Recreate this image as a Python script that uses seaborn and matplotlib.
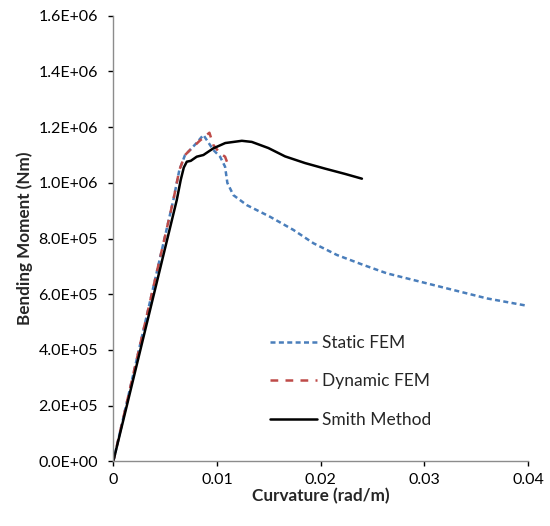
import numpy as np
import pandas as pd
import matplotlib
matplotlib.use("Agg")
import matplotlib.pyplot as plt
import seaborn as sns

# Data
static_x = [0.0, 0.00579, 0.00637, 0.00692, 0.0074, 0.0080, 0.00869,
            0.00965, 0.0103, 0.01078, 0.0110, 0.01158, 0.01288, 0.01513, 0.01737,
            0.01931, 0.02157, 0.02413, 0.02639, 0.0296, 0.03282, 0.03604, 0.040]
static_y = [0.0, 0.938e6, 1.046e6, 1.100e6, 1.118e6, 1.142e6, 1.172e6,
            1.118e6, 1.094e6, 1.058e6, 1.000e6, 0.956e6, 0.920e6, 0.878e6, 0.831e6,
            0.783e6, 0.741e6, 0.705e6, 0.675e6, 0.645e6, 0.615e6, 0.585e6, 0.558e6]

dyn_x = [0.0, 0.00579, 0.00637, 0.00692, 0.0074, 0.0083, 0.00927,
         0.00965, 0.0103, 0.01078, 0.0112]
dyn_y = [0.0, 0.938e6, 1.046e6, 1.100e6, 1.118e6, 1.150e6, 1.180e6,
         1.136e6, 1.106e6, 1.094e6, 1.052e6]

smith_x = [0.0, 0.00612, 0.0065, 0.0068, 0.00709, 0.00747, 0.00805,
           0.00869, 0.00965, 0.0108, 0.0124, 0.01336, 0.01496, 0.01657, 0.0185,
           0.02043, 0.02236, 0.02398]
smith_y = [0.0, 0.938e6, 1.010e6, 1.055e6, 1.076e6, 1.079e6, 1.094e6,
           1.100e6, 1.124e6, 1.143e6, 1.151e6, 1.147e6, 1.125e6, 1.095e6, 1.071e6,
           1.051e6, 1.032e6, 1.015e6]

x_ticks = [0, 0.01, 0.02, 0.03, 0.04]
x_tick_labels = ["0", "0.01", "0.02", "0.03", "0.04"]
y_ticks = [0, 2e5, 4e5, 6e5, 8e5, 1.0e6, 1.2e6, 1.4e6, 1.6e6]
y_tick_labels = ["0.0E+00", "2.0E+05", "4.0E+05", "6.0E+05", "8.0E+05",
                 "1.0E+06", "1.2E+06", "1.4E+06", "1.6E+06"]

sns.set_style("white")
plt.rcParams['font.family'] = ['Lato', 'DejaVu Sans']

fig = plt.figure(figsize=(5.5, 5.26), dpi=100)
ax = fig.add_axes([0.206, 0.123, 0.754, 0.847])

BLUE_DASH = [2.0, 1.35]
RED_DASH = [3.1, 2.9]

sns.lineplot(x=static_x, y=static_y, ax=ax, sort=False, estimator=None,
             color="#4A7EBB", linewidth=1.8, label="Static FEM")
sns.lineplot(x=dyn_x, y=dyn_y, ax=ax, sort=False, estimator=None,
             color="#BE4B48", linewidth=1.8, label="Dynamic FEM")
sns.lineplot(x=smith_x, y=smith_y, ax=ax, sort=False, estimator=None,
             color="black", linewidth=1.8, label="Smith Method")
ax.lines[0].set_dashes(BLUE_DASH)
ax.lines[1].set_dashes(RED_DASH)

ax.set_xlim(0, 0.04)
ax.set_ylim(0, 1.6e6)
ax.set_xticks(x_ticks)
ax.set_xticklabels(x_tick_labels)
ax.set_yticks(y_ticks)
ax.set_yticklabels(y_tick_labels)
ax.tick_params(axis='both', which='major', labelsize=11.5, colors='#000000',
               length=3.6, width=1, direction='out',
               left=True, bottom=True)
ax.tick_params(axis='y', pad=7.5)
ax.tick_params(axis='x', pad=5)
for t in ax.get_xticklines() + ax.get_yticklines():
    t.set_color('#8c8c8c')
for side in ['top', 'right']:
    ax.spines[side].set_visible(False)
for side in ['left', 'bottom']:
    ax.spines[side].set_color('#8c8c8c')
    ax.spines[side].set_linewidth(1)

ax.set_xlabel("Curvature (rad/m)", fontsize=12.3, fontweight='bold', labelpad=0.5)
ax.set_ylabel("Bending Moment (Nm)", fontsize=12.3, fontweight='bold', labelpad=4)

leg = ax.legend(loc='lower left', bbox_to_anchor=(0.34, 0.04), frameon=False,
                fontsize=12.5, handlelength=2.7, handletextpad=0.3, labelspacing=1.3)
leg.get_lines()[0].set_dashes(BLUE_DASH)
leg.get_lines()[1].set_dashes(RED_DASH)

fig.savefig("out.png", dpi=100)
